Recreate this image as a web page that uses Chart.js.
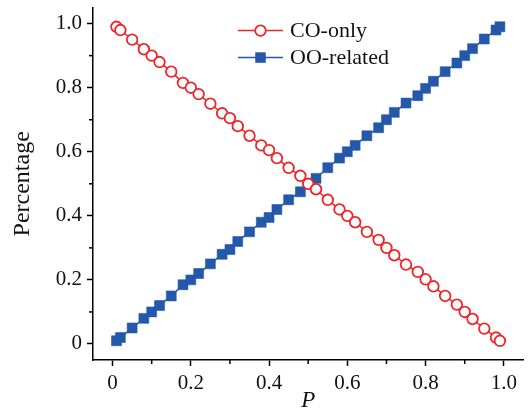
<!DOCTYPE html>
<html><head><meta charset="utf-8">
<script src="https://cdn.jsdelivr.net/npm/chart.js@4/dist/chart.umd.min.js"></script>
<style>html,body{margin:0;padding:0;background:#fff;overflow:hidden}</style>
</head><body>
<canvas id="c" width="531" height="415"></canvas>
<script>
const pValues = [0.01,0.02,0.05,0.08,0.10,0.12,0.15,0.18,0.20,0.22,0.25,0.28,0.30,0.32,0.35,0.38,0.40,0.42,0.45,0.48,0.50,0.52,0.55,0.58,0.60,0.62,0.65,0.68,0.70,0.72,0.75,0.78,0.80,0.82,0.85,0.88,0.90,0.92,0.95,0.98,0.99];
const coOnly = [0.99,0.98,0.95,0.92,0.90,0.88,0.85,0.815,0.80,0.78,0.75,0.72,0.705,0.68,0.65,0.62,0.605,0.58,0.55,0.525,0.50,0.483,0.45,0.42,0.40,0.38,0.35,0.325,0.30,0.277,0.248,0.225,0.202,0.18,0.15,0.123,0.10,0.078,0.048,0.02,0.01];
const ooRelated = [0.01,0.02,0.05,0.08,0.10,0.12,0.15,0.185,0.20,0.22,0.25,0.28,0.295,0.32,0.35,0.38,0.395,0.42,0.45,0.475,0.50,0.517,0.55,0.58,0.60,0.62,0.65,0.675,0.70,0.723,0.752,0.775,0.798,0.82,0.85,0.877,0.90,0.922,0.952,0.98,0.99];
const seriesNames = ['CO-only','OO-related'];
const xTickValues = [0,0.2,0.4,0.6,0.8,1.0];
const xTickLabels = ['0','0.2','0.4','0.6','0.8','1.0'];
const yTickValues = [0,0.2,0.4,0.6,0.8,1.0];
const yTickLabels = ['0','0.2','0.4','0.6','0.8','1.0'];
const minorTickValues = [0.1,0.3,0.5,0.7,0.9];
const xTitle = 'P';
const yTitle = 'Percentage';

const RED = 'rgb(236,38,42)';
const BLUE = 'rgb(36,88,168)';
const FONT = "'Liberation Serif', serif";

const toXY = (ys) => pValues.map((p, i) => ({x: p, y: ys[i]}));

const minorTicks = {
  id: 'minorTicks',
  afterDraw(chart) {
    const ctx = chart.ctx;
    const xs = chart.scales.x, ys = chart.scales.y;
    ctx.save();
    ctx.strokeStyle = '#000';
    ctx.lineWidth = 1.5;
    minorTickValues.forEach(v => {
      const px = xs.getPixelForValue(v);
      ctx.beginPath(); ctx.moveTo(px, xs.top); ctx.lineTo(px, xs.top + 4); ctx.stroke();
      const py = ys.getPixelForValue(v);
      ctx.beginPath(); ctx.moveTo(ys.right, py); ctx.lineTo(ys.right - 4, py); ctx.stroke();
    });
    ctx.restore();
  }
};

const lineLegend = {
  id: 'lineLegend',
  afterDraw(chart) {
    const ctx = chart.ctx, a = chart.chartArea;
    const x0 = a.left + 145, y0 = a.top + 23, dy = 27, len = 45;
    chart.data.datasets.forEach((ds, i) => {
      const y = y0 + i * dy;
      ctx.save();
      ctx.strokeStyle = ds.borderColor; ctx.lineWidth = ds.borderWidth;
      ctx.beginPath(); ctx.moveTo(x0, y); ctx.lineTo(x0 + len, y); ctx.stroke();
      ctx.fillStyle = ds.pointBackgroundColor; ctx.strokeStyle = ds.pointBorderColor; ctx.lineWidth = ds.pointBorderWidth;
      Chart.helpers.drawPoint(ctx, {pointStyle: ds.pointStyle, radius: ds.pointRadius, borderWidth: ds.pointBorderWidth, rotation: 0}, x0 + len / 2, y);
      ctx.fillStyle = '#111';
      ctx.font = '22px ' + FONT;
      ctx.textBaseline = 'middle';
      ctx.textAlign = 'left';
      ctx.fillText(ds.label, x0 + len + 7, y + 1);
      ctx.restore();
    });
  }
};

const axisCommon = (vals, labels) => ({
  type: 'linear', min: -0.05, max: 1.05,
  afterBuildTicks: s => { s.ticks = vals.map(v => ({value: v})); },
  ticks: {
    callback: (v, i) => labels[i],
    font: {family: FONT, size: 21}, color: '#111', padding: 5,
    autoSkip: false, maxRotation: 0
  },
  grid: {drawOnChartArea: false, drawTicks: true, tickLength: 6, tickColor: '#000', tickWidth: 1.5},
  border: {display: true, color: '#000', width: 1.5}
});

const xScale = axisCommon(xTickValues, xTickLabels);
xScale.title = {display: true, text: xTitle, font: {family: FONT, size: 23, style: 'italic'}, color: '#111', padding: {top: 0, bottom: 0}};
xScale.afterFit = s => { s.height = 55; s.paddingLeft = 0; s.paddingRight = 0; };
const yScale = axisCommon(yTickValues, yTickLabels);
yScale.title = {display: true, text: yTitle, font: {family: FONT, size: 24}, color: '#111', padding: {top: 8, bottom: 0}};
yScale.afterFit = s => { s.width = 93; s.paddingTop = 0; s.paddingBottom = 0; };

new Chart(document.getElementById('c'), {
  type: 'line',
  data: {
    datasets: [
      {label: seriesNames[0], data: toXY(coOnly), borderColor: RED, borderWidth: 1.5,
       pointStyle: 'circle', pointRadius: 5.3, pointBorderWidth: 1.8, pointBackgroundColor: '#fff', pointBorderColor: RED, tension: 0},
      {label: seriesNames[1], data: toXY(ooRelated), borderColor: BLUE, borderWidth: 1.5,
       pointStyle: 'rect', pointRadius: 7, pointBorderWidth: 0.6, pointBackgroundColor: BLUE, pointBorderColor: BLUE, tension: 0}
    ]
  },
  options: {
    responsive: false, animation: false, events: [],
    layout: {padding: {top: 7, right: 3, left: 0, bottom: 0}},
    plugins: {legend: {display: false}, tooltip: {enabled: false}},
    scales: {x: xScale, y: yScale}
  },
  plugins: [minorTicks, lineLegend]
});
</script>
</body></html>
